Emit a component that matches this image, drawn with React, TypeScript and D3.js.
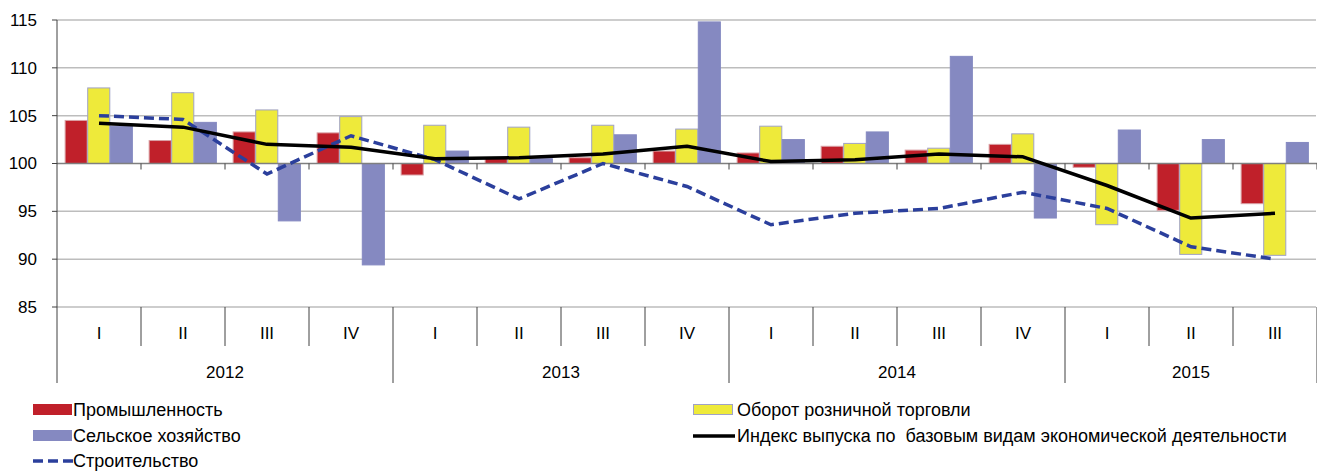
import React from 'react';
import * as d3 from 'd3';

// quarters 2012 Q1 .. 2015 Q3
const quarters = ['I', 'II', 'III', 'IV', 'I', 'II', 'III', 'IV', 'I', 'II', 'III', 'IV', 'I', 'II', 'III'];
const years = ['2012', '2013', '2014', '2015'];
const yearLength = [4, 4, 4, 3];

const industry = [104.5, 102.4, 103.3, 103.2, 98.8, 100.6, 100.6, 101.3, 101.1, 101.8, 101.4, 102.0, 99.6, 95.1, 95.8];
const retail = [107.9, 107.4, 105.6, 104.9, 104.0, 103.8, 104.0, 103.6, 103.9, 102.1, 101.6, 103.1, 93.6, 90.5, 90.4];
const agriculture = [103.9, 104.3, 94.0, 89.4, 101.3, 100.5, 103.0, 114.8, 102.5, 103.3, 111.2, 94.3, 103.5, 102.5, 102.2];
const construction = [105.0, 104.6, 98.9, 102.9, 100.4, 96.3, 100.0, 97.6, 93.6, 94.8, 95.3, 97.0, 95.3, 91.3, 90.0];
const outputIndex = [104.2, 103.8, 102.0, 101.7, 100.5, 100.6, 101.0, 101.8, 100.2, 100.4, 101.0, 100.7, 97.7, 94.3, 94.8];

const yTicks = [85, 90, 95, 100, 105, 110, 115];

const barSeries = [
    { key: 'ind', name: 'Промышленность', values: industry, fill: '#C0202A', stroke: '#D9A0A4' },
    { key: 'ret', name: 'Оборот розничной торговли', values: retail, fill: '#EEEA3A', stroke: '#A0A2C8' },
    { key: 'agr', name: 'Сельское хозяйство', values: agriculture, fill: '#8589C1', stroke: '#8589C1' },
];

const font = '"Liberation Sans", Arial, sans-serif';

export default function App() {
    const width = 1317, height = 471;
    const left = 57, right = 1317, top = 20, bottom = 307;

    const x0 = d3.scaleBand<number>()
        .domain(d3.range(quarters.length))
        .range([left, right])
        .padding(0);
    const x1 = d3.scaleBand<string>()
        .domain(barSeries.map(s => s.key))
        .range([0, x0.bandwidth()])
        .paddingInner(0)
        .paddingOuter(0.36);
    const y = d3.scaleLinear().domain([85, 115]).range([bottom, top]);
    const base = y(100);
    const cx = (i: number) => (x0(i) as number) + x0.bandwidth() / 2;

    const line = d3.line<number>()
        .x((d, i) => cx(i))
        .y(d => y(d));

    const yearStarts = yearLength.map((n, i) => d3.sum(yearLength.slice(0, i)));
    const step = x0.step();

    return (
        <svg width={width} height={height} style={{ position: 'absolute', left: 0, top: 0 }} fontFamily={font}>
            <rect width={width} height={height} fill="#fff" />
            {/* gridlines */}
            {yTicks.filter(t => t !== 100).map(t => (
                <line key={t} x1={left} x2={right - 1} y1={y(t)} y2={y(t)} stroke="#BDBDBD" strokeWidth={1.5} />
            ))}
            {/* bars */}
            {barSeries.map(s => (
                <g key={s.key}>
                    {s.values.map((v, i) => (
                        <rect key={i}
                            x={(x0(i) as number) + (x1(s.key) as number)}
                            y={Math.min(y(v), base)}
                            width={x1.bandwidth() - 0.5}
                            height={Math.abs(y(v) - base)}
                            fill={s.fill}
                            stroke={s.stroke}
                            strokeWidth={1} />
                    ))}
                </g>
            ))}
            {/* horizontal axis at 100 */}
            <line x1={left} x2={right} y1={base} y2={base} stroke="#7F7F7F" strokeWidth={1.5} />
            {d3.range(1, quarters.length + 1).map(i => (
                <line key={i} x1={left + i * step} x2={left + i * step} y1={base} y2={base + 6} stroke="#404040" strokeWidth={1} />
            ))}
            {/* lines */}
            <path d={line(construction) as string} fill="none" stroke="#2B3F9C" strokeWidth={3.5} strokeDasharray="10,5" />
            <path d={line(outputIndex) as string} fill="none" stroke="#000" strokeWidth={3.5} strokeLinejoin="round" />
            {/* y axis */}
            <line x1={left} x2={left} y1={top} y2={383} stroke="#404040" strokeWidth={1} />
            {yTicks.map(t => (
                <g key={t}>
                    <line x1={left - 5} x2={left} y1={y(t)} y2={y(t)} stroke="#404040" />
                    <text x={37} y={y(t)} dy="0.35em" textAnchor="end" fontSize={17} fill="#000">{t}</text>
                </g>
            ))}
            {/* category table */}
            {d3.range(1, quarters.length + 1).map(i => (
                <line key={i} x1={left + i * step} x2={left + i * step} y1={bottom} y2={yearStarts.includes(i) || i === quarters.length ? 383 : 346} stroke="#404040" strokeWidth={1} />
            ))}
            {quarters.map((q, i) => (
                <text key={i} x={cx(i)} y={333} dy="0.35em" textAnchor="middle" fontSize={17}>{q}</text>
            ))}
            {years.map((yr, i) => (
                <text key={yr} x={left + (yearStarts[i] + yearLength[i] / 2) * step} y={372} dy="0.35em" textAnchor="middle" fontSize={17}>{yr}</text>
            ))}
            {/* legend */}
            <g fontSize={18}>
                <rect x={33} y={404} width={39} height={11} fill="#C0202A" />
                <text x={73} y={409.5} dy="0.35em">Промышленность</text>
                <rect x={33} y={430} width={39} height={11} fill="#8589C1" />
                <text x={73} y={435.5} dy="0.35em">Сельское хозяйство</text>
                <line x1={33} x2={73} y1={461} y2={461} stroke="#2B3F9C" strokeWidth={3.5} strokeDasharray="10,5" />
                <text x={73} y={461} dy="0.33em">Строительство</text>
                <rect x={693.5} y={404.5} width={39} height={10} fill="#EEEA3A" stroke="#A0A2C8" />
                <text x={737} y={409.5} dy="0.35em">Оборот розничной торговли</text>
                <line x1={693} x2={735} y1={436} y2={436} stroke="#000" strokeWidth={3.5} />
                <text x={737} y={435.5} dy="0.35em" style={{ whiteSpace: 'pre' }}>Индекс выпуска по  базовым видам экономической деятельности</text>
            </g>
        </svg>
    );
}
